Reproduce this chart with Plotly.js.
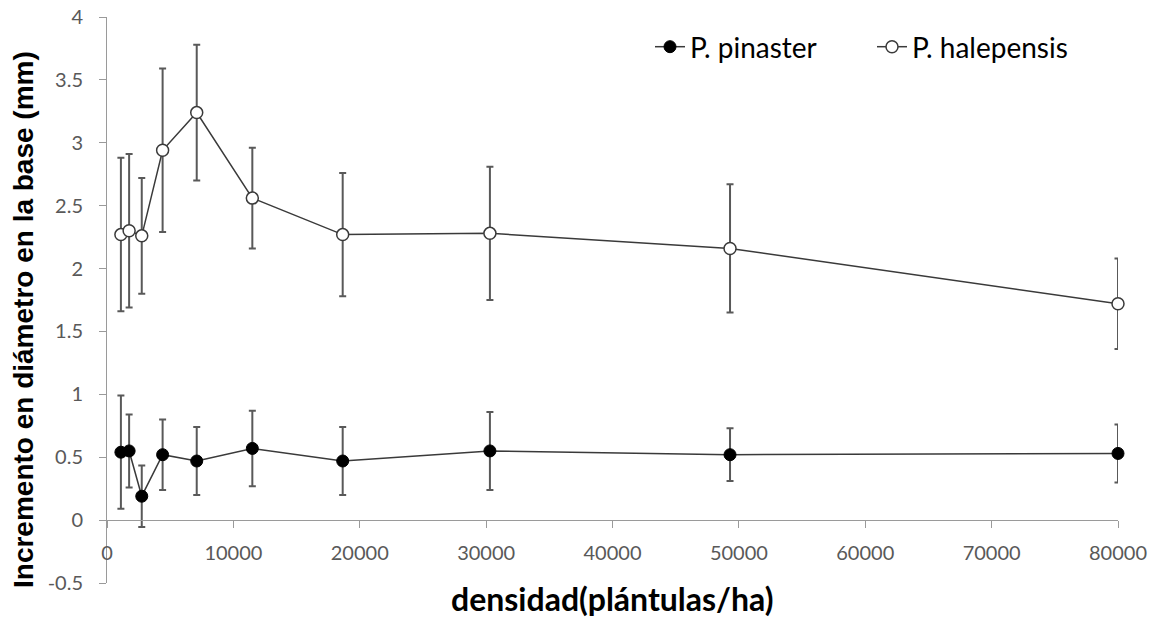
<!DOCTYPE html>
<html>
<head>
<meta charset="utf-8">
<script src="https://cdn.plot.ly/plotly-3.0.1.min.js"></script>
<style>
html,body{margin:0;padding:0;background:#fff;}
#chart{width:1154px;height:624px;}
</style>
</head>
<body>
<div id="chart"></div>
<script>
// Data
var densidad = [1100, 1750, 2750, 4400, 7100, 11500, 18650, 30300, 49300, 80000];
var pinaster = [0.54, 0.55, 0.19, 0.52, 0.47, 0.57, 0.47, 0.55, 0.52, 0.53];
var pinasterSD = [0.45, 0.29, 0.245, 0.28, 0.27, 0.30, 0.27, 0.31, 0.21, 0.23];
var halepensis = [2.27, 2.30, 2.26, 2.94, 3.24, 2.56, 2.27, 2.28, 2.16, 1.72];
var halepensisSD = [0.61, 0.61, 0.46, 0.65, 0.54, 0.40, 0.49, 0.53, 0.51, 0.36];
var seriesNames = ["P. pinaster", "P. halepensis"];
var xTicks = [0, 10000, 20000, 30000, 40000, 50000, 60000, 70000, 80000];
var yTicks = [-0.5, 0, 0.5, 1, 1.5, 2, 2.5, 3, 3.5, 4];

var errStyle = {type: 'data', visible: true, color: '#595959', thickness: 2, width: 3.5};

var tracePin = {
  x: densidad, y: pinaster, name: seriesNames[0], type: 'scatter', mode: 'lines+markers',
  cliponaxis: false,
  line: {color: '#3a3a3a', width: 1.5},
  marker: {symbol: 'circle', size: 12, color: '#000000', line: {color: '#000000', width: 1}},
  error_y: Object.assign({array: pinasterSD}, errStyle),
  legend: 'legend'
};
var traceHal = {
  x: densidad, y: halepensis, name: seriesNames[1], type: 'scatter', mode: 'lines+markers',
  cliponaxis: false,
  line: {color: '#3a3a3a', width: 1.5},
  marker: {symbol: 'circle', size: 12, color: '#ffffff', line: {color: '#3a3a3a', width: 1.5}},
  error_y: Object.assign({array: halepensisSD}, errStyle),
  legend: 'legend2'
};

var tickFont = {family: 'Lato, "Open Sans", sans-serif', size: 20, color: '#595959'};
var legendFont = {family: 'Lato, "Open Sans", sans-serif', size: 28, color: '#000000'};

var layout = {
  width: 1154, height: 624,
  margin: {l: 107, r: 36, t: 17, b: 41, pad: 0},
  paper_bgcolor: '#ffffff', plot_bgcolor: '#ffffff',
  showlegend: true,
  xaxis: {
    range: [0, 80000], tickvals: xTicks, ticktext: xTicks.map(String),
    showgrid: false, zeroline: false, showline: true, linecolor: '#9a9a9a', linewidth: 1,
    ticks: 'outside', ticklen: 7, tickcolor: '#9a9a9a', tickwidth: 1,
    tickfont: tickFont, ticklabelstandoff: 8,
    anchor: 'free', position: 0.5 / 4.5
  },
  yaxis: {
    range: [-0.5, 4], tickvals: yTicks, ticktext: yTicks.map(String),
    showgrid: false, zeroline: false, showline: true, linecolor: '#9a9a9a', linewidth: 1,
    ticks: 'outside', ticklen: 7, tickcolor: '#9a9a9a', tickwidth: 1,
    tickfont: tickFont, ticklabelstandoff: 12
  },
  legend: {
    x: (650 - 107) / 1011, y: (583 - 47) / 566, xanchor: 'left', yanchor: 'middle',
    orientation: 'h', font: legendFont, bgcolor: 'rgba(0,0,0,0)', borderwidth: 0
  },
  legend2: {
    x: (872 - 107) / 1011, y: (583 - 47) / 566, xanchor: 'left', yanchor: 'middle',
    orientation: 'h', font: legendFont, bgcolor: 'rgba(0,0,0,0)', borderwidth: 0
  },
  annotations: [
    {
      text: 'Incremento en diámetro en la base (mm)', textangle: -90,
      xref: 'paper', yref: 'paper', x: (23 - 107) / 1011, y: (583 - 320) / 566,
      xanchor: 'center', yanchor: 'middle', showarrow: false,
      font: {family: '"Liberation Sans", Arial, sans-serif', size: 28, color: '#000000', weight: 'bold'}
    },
    {
      text: 'densidad(plántulas/ha)',
      xref: 'paper', yref: 'paper', x: 0.5, y: -(598 - 583) / 566,
      xanchor: 'center', yanchor: 'middle', showarrow: false,
      font: {family: 'Lato, "Open Sans", sans-serif', size: 32, color: '#000000', weight: 'bold'}
    }
  ]
};

Plotly.newPlot('chart', [tracePin, traceHal], layout, {displayModeBar: false, staticPlot: true});
</script>
</body>
</html>
